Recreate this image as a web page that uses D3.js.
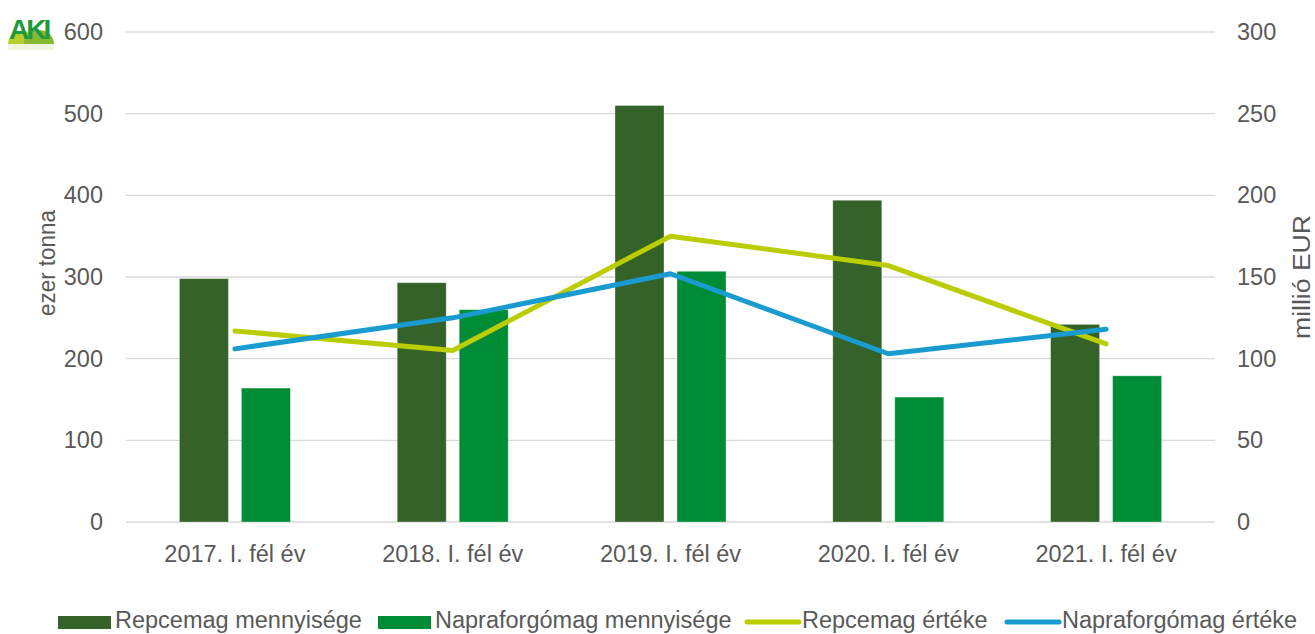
<!DOCTYPE html>
<html><head><meta charset="utf-8">
<script src="https://cdn.jsdelivr.net/npm/d3@7"></script>
<style>
html,body{margin:0;padding:0;background:#fff;}
svg{display:block;font-family:"Liberation Sans",Arial,sans-serif;}
</style></head>
<body><svg id="c" width="1315" height="634"></svg>
<script>
const categories = ["2017. I. fél év","2018. I. fél év","2019. I. fél év","2020. I. fél év","2021. I. fél év"];
const repceQty = [298, 293, 510, 394, 242];
const napraQty = [164, 260, 307, 153, 179];
const repceVal = [117, 105, 175, 157, 109];
const napraVal = [106, 125, 152, 103, 118];
const leftTicks = [0,100,200,300,400,500,600];
const rightTicks = [0,50,100,150,200,250,300];
const seriesNames = ["Repcemag mennyisége","Napraforgómag mennyisége","Repcemag értéke","Napraforgómag értéke"];
const colors = {dark:"#356229", green:"#008c37", yellow:"#b9cd00", blue:"#1a9bd0"};

const svg = d3.select("#c");
const L = 126, R = 1215, T = 32, B = 522;
const x = d3.scaleBand().domain(categories).range([L,R]);
const yL = d3.scaleLinear().domain([0,600]).range([B,T]);
const yR = d3.scaleLinear().domain([0,300]).range([B,T]);
const barW = 49, gap = 13;
const txt = "#595959";
const fs = 23.5;

// gridlines
svg.append("g").selectAll("line").data(leftTicks).join("line")
  .attr("x1",L).attr("x2",R).attr("y1",d=>yL(d)).attr("y2",d=>yL(d))
  .attr("stroke","#d9d9d9").attr("stroke-width",1.3);

// tick labels
svg.append("g").selectAll("text").data(leftTicks).join("text")
  .attr("x",103).attr("y",d=>yL(d)+8).attr("text-anchor","end")
  .attr("font-size",fs).attr("fill",txt).text(d=>d);
svg.append("g").selectAll("text").data(rightTicks).join("text")
  .attr("x",1237).attr("y",d=>yR(d)+8).attr("text-anchor","start")
  .attr("font-size",fs).attr("fill",txt).text(d=>d);
svg.append("g").selectAll("text").data(categories).join("text")
  .attr("x",d=>x(d)+x.bandwidth()/2).attr("y",562).attr("text-anchor","middle")
  .attr("font-size",fs).attr("fill",txt).text(d=>d);

// axis titles
svg.append("text").attr("transform","translate(55,263) rotate(-90)")
  .attr("text-anchor","middle").attr("font-size",fs).attr("fill",txt)
  .attr("textLength",106).attr("lengthAdjust","spacingAndGlyphs").text("ezer tonna");
svg.append("text").attr("transform","translate(1310,277) rotate(-90)")
  .attr("text-anchor","middle").attr("font-size",fs).attr("fill",txt)
  .attr("textLength",124).attr("lengthAdjust","spacingAndGlyphs").text("millió EUR");

// bars
const cx = d => x(d)+x.bandwidth()/2;
svg.append("g").selectAll("rect").data(categories).join("rect")
  .attr("x",d=>cx(d)-gap/2-barW).attr("width",barW)
  .attr("y",(d,i)=>yL(repceQty[i])).attr("height",(d,i)=>B-yL(repceQty[i]))
  .attr("fill",colors.dark).attr("stroke","#ffffff").attr("stroke-opacity",0.4).attr("stroke-width",0.8);
svg.append("g").selectAll("rect").data(categories).join("rect")
  .attr("x",d=>cx(d)+gap/2).attr("width",barW)
  .attr("y",(d,i)=>yL(napraQty[i])).attr("height",(d,i)=>B-yL(napraQty[i]))
  .attr("fill",colors.green).attr("stroke","#ffffff").attr("stroke-opacity",0.4).attr("stroke-width",0.8);

// lines
const line = d3.line().x(d=>d[0]).y(d=>d[1]);
svg.append("path").datum(categories.map((c,i)=>[cx(c),yR(repceVal[i])]))
  .attr("d",line).attr("fill","none").attr("stroke",colors.yellow).attr("stroke-width",5)
  .attr("stroke-linecap","round").attr("stroke-linejoin","round");
svg.append("path").datum(categories.map((c,i)=>[cx(c),yR(napraVal[i])]))
  .attr("d",line).attr("fill","none").attr("stroke",colors.blue).attr("stroke-width",5)
  .attr("stroke-linecap","round").attr("stroke-linejoin","round");

// legend
const lg = svg.append("g");
const legendItems = [
  {name:seriesNames[0], type:"rect", color:colors.dark, x:58},
  {name:seriesNames[1], type:"rect", color:colors.green, x:378},
  {name:seriesNames[2], type:"line", color:colors.yellow, x:745},
  {name:seriesNames[3], type:"line", color:colors.blue, x:1005}
];
legendItems.forEach(it=>{
  if(it.type==="rect"){
    lg.append("rect").attr("x",it.x).attr("y",616).attr("width",53).attr("height",13).attr("fill",it.color);
  } else {
    lg.append("line").attr("x1",it.x+2).attr("x2",it.x+54).attr("y1",622).attr("y2",622)
      .attr("stroke",it.color).attr("stroke-width",5).attr("stroke-linecap","round");
  }
  lg.append("text").attr("x",it.x+57).attr("y",628).attr("font-size",23.5).attr("fill",txt).text(it.name);
});

// logo
const logo = svg.append("g");
logo.append("path").attr("d","M8,44 A14,13 0 0 1 36,44 Z").attr("fill","#b7cf2a");
logo.append("path").attr("d","M24,44 A15,14 0 0 1 54,44 Z").attr("fill","#86b832");
logo.append("rect").attr("x",8).attr("y",44).attr("width",46).attr("height",6).attr("fill","#e4efc8").attr("opacity",0.6);
logo.append("text").attr("x",9).attr("y",39).attr("font-size",28).attr("font-weight","bold")
  .attr("fill","#1f9a3a").attr("letter-spacing",-3).text("AKI");
</script></body></html>
